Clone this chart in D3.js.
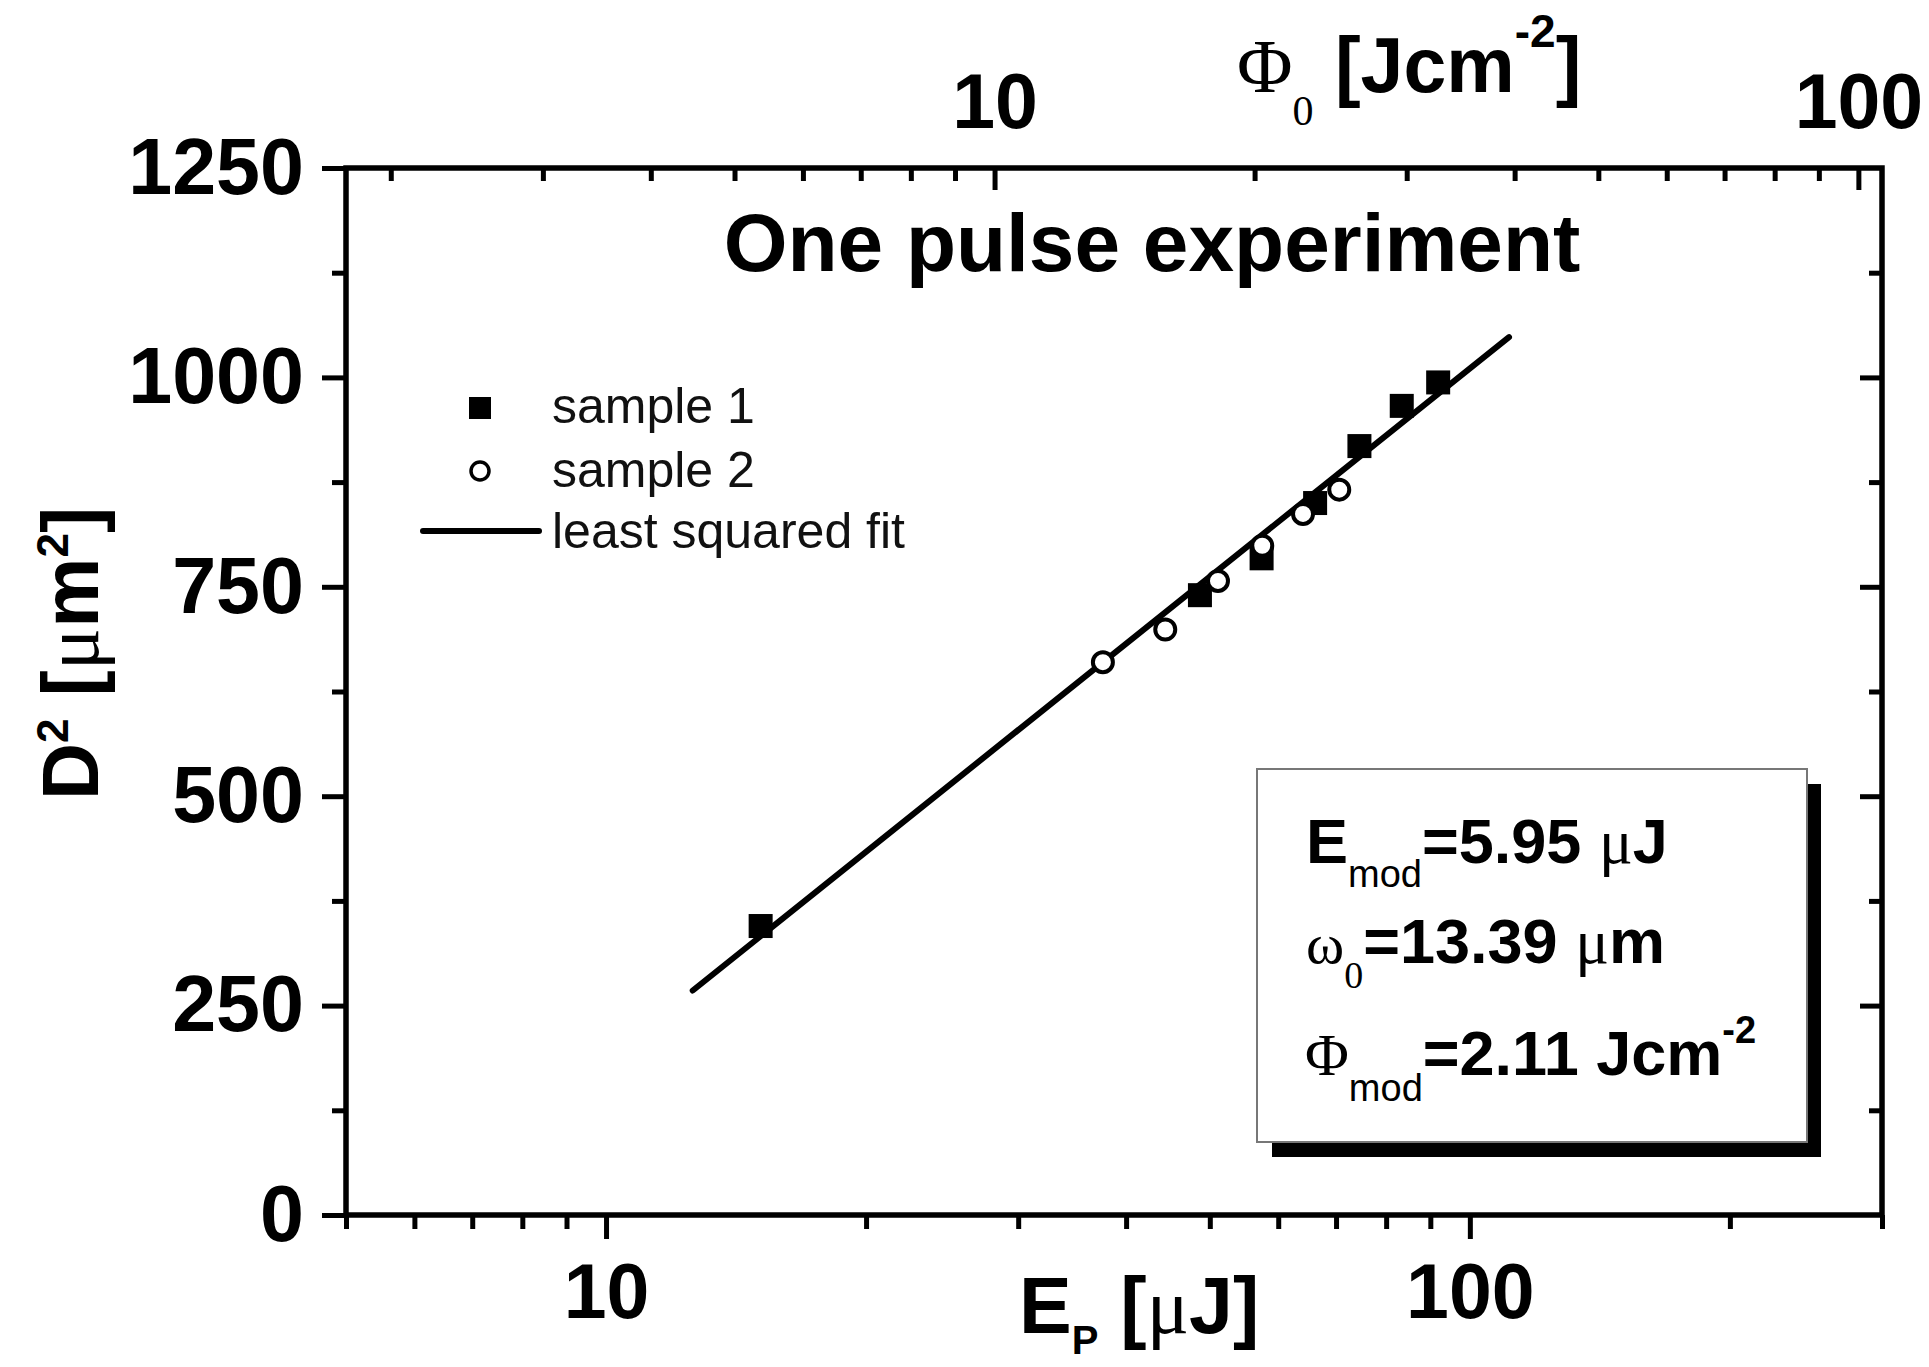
<!DOCTYPE html>
<html>
<head>
<meta charset="utf-8">
<script src="https://cdn.jsdelivr.net/npm/d3@7"></script>
<style>body{margin:0;background:#fff}</style>
</head>
<body>
<div id="chart"></div>
<script>
// DATA ------------------------------
const sample1E = [15.1, 48.7, 57.4, 66.2, 74.5, 83.4, 91.9];
const sample1D2 = [345, 740, 784, 850, 918, 966, 994];
const sample2E = [37.6, 44.4, 51.1, 57.5, 64.1, 70.6];
const sample2D2 = [660, 699, 757, 799, 837, 866];
const fitE = [12.6, 111];
const fitD2 = [268, 1048];
const xMajor = [10, 100];
const xMinor = [5, 6, 7, 8, 9, 20, 30, 40, 50, 60, 70, 80, 90, 200, 300];
const phiMajor = [10, 100];
const phiMinor = [2, 3, 4, 5, 6, 7, 8, 9, 20, 30, 40, 50, 60, 70, 80, 90];
const yMajor = [0, 250, 500, 750, 1000, 1250];
const yMinor = [125, 375, 625, 875, 1125];
const fluencePerMicroJ = 0.355; // Phi0 [J/cm2] for 1 uJ
const legendNames = ["sample 1", "sample 2", "least squared fit"];

// CHART INIT ------------------------------
const sans = "'Liberation Sans', Arial, Helvetica, sans-serif";
const serif = "'Liberation Serif', 'Times New Roman', serif";
const margin = ({top: 168, right: 47, bottom: 152, left: 346});
const width = 1929 - margin.left - margin.right;
const height = 1367 - margin.top - margin.bottom;

const root = d3.select('#chart').append('svg')
  .attr('width', 1929)
  .attr('height', 1367)
  .style('background', '#fff');
const svg = root.append('g')
  .attr("transform", "translate(" + margin.left + "," + margin.top + ")");

const x = d3.scaleLog().domain([5, 300]).range([0, width]);
const xTop = d3.scaleLog()
  .domain([5 * fluencePerMicroJ, 300 * fluencePerMicroJ]).range([0, width]);
const y = d3.scaleLinear().domain([0, 1250]).range([height, 0]);

function styleAxis(g, size) {
  g.select(".domain").remove();
  g.attr("font-family", sans).attr("font-size", size).attr("font-weight", "bold");
  g.selectAll(".tick line").attr("stroke-width", 5);
  g.selectAll(".tick text").attr("fill", "#000");
}

// bottom axis (E_P)
svg.append("g").attr("transform", "translate(0," + height + ")")
  .call(d3.axisBottom(x).tickValues(xMinor).tickSize(14).tickFormat(""))
  .call(g => styleAxis(g, 77));
svg.append("g").attr("transform", "translate(0," + height + ")")
  .call(d3.axisBottom(x).tickValues(xMajor).tickSize(24).tickPadding(24).tickFormat(d3.format("d")))
  .call(g => styleAxis(g, 77));

// top axis (Phi0), ticks inward
svg.append("g")
  .call(d3.axisTop(xTop).tickValues(phiMinor).tickSize(-13).tickFormat(""))
  .call(g => styleAxis(g, 77));
svg.append("g")
  .call(d3.axisTop(xTop).tickValues(phiMajor).tickSize(-22).tickPadding(40).tickFormat(d3.format("d")))
  .call(g => styleAxis(g, 77));

// left axis
svg.append("g")
  .call(d3.axisLeft(y).tickValues(yMinor).tickSize(14).tickFormat(""))
  .call(g => styleAxis(g, 79));
svg.append("g")
  .call(d3.axisLeft(y).tickValues(yMajor).tickSize(24).tickPadding(18).tickFormat(d3.format("d")))
  .call(g => styleAxis(g, 79));

// right axis, ticks inward
svg.append("g").attr("transform", "translate(" + width + ",0)")
  .call(d3.axisRight(y).tickValues(yMinor).tickSize(-13).tickFormat(""))
  .call(g => styleAxis(g, 79));
svg.append("g").attr("transform", "translate(" + width + ",0)")
  .call(d3.axisRight(y).tickValues(yMajor.slice(1, -1)).tickSize(-22).tickFormat(""))
  .call(g => styleAxis(g, 79));

// frame
svg.append("rect")
  .attr("width", width).attr("height", height)
  .attr("fill", "none").attr("stroke", "#000").attr("stroke-width", 5.5);

// fit line
svg.append("path")
  .datum(fitE.map((e, i) => [e, fitD2[i]]))
  .attr("d", d3.line().x(d => x(d[0])).y(d => y(d[1])))
  .attr("fill", "none").attr("stroke", "#000").attr("stroke-width", 6)
  .attr("stroke-linecap", "round");

// sample 1 (filled squares)
svg.selectAll(".s1").data(sample1E).enter().append("rect")
  .attr("class", "s1")
  .attr("x", d => x(d) - 12)
  .attr("y", (d, i) => y(sample1D2[i]) - 12)
  .attr("width", 24).attr("height", 24)
  .attr("fill", "#000");

// sample 2 (open circles)
svg.selectAll(".s2").data(sample2E).enter().append("circle")
  .attr("class", "s2")
  .attr("cx", d => x(d))
  .attr("cy", (d, i) => y(sample2D2[i]))
  .attr("r", 10)
  .attr("fill", "#fff").attr("stroke", "#000").attr("stroke-width", 4);

// TEXT HELPERS ----------------------------
function rich(parent, px, py, parts) {
  const t = parent.append("text").attr("x", px).attr("y", py).attr("fill", "#000");
  let shift = 0;
  parts.forEach(p => {
    const s = t.append("tspan").text(p.t)
      .attr("font-size", p.size)
      .attr("font-weight", p.bold ? "bold" : "normal")
      .attr("font-family", p.serif ? serif : sans)
      .style("white-space", "pre");
    const sh = p.shift || 0;
    if (sh - shift !== 0) s.attr("dy", sh - shift);
    shift = sh;
  });
  return t;
}

// title
root.append("text")
  .attr("x", 1152).attr("y", 271)
  .attr("text-anchor", "middle")
  .attr("font-family", sans).attr("font-size", 82).attr("font-weight", "bold")
  .text("One pulse experiment");

// axis titles
rich(root, 1019, 1333, [
  {t: "E", size: 79, bold: true},
  {t: "P", size: 40, bold: true, shift: 21},
  {t: " [", size: 79, bold: true},
  {t: "μ", size: 79, serif: true},
  {t: "J]", size: 79, bold: true}
]);

rich(root, 1237, 92, [
  {t: "Φ", size: 76, serif: true},
  {t: "0", size: 42, serif: true, shift: 33},
  {t: " [Jcm", size: 77, bold: true},
  {t: "-2", size: 46, bold: true, shift: -45},
  {t: "]", size: 77, bold: true}
]);

const yTitle = root.append("g").attr("transform", "translate(98,800) rotate(-90)");
rich(yTitle, 0, 0, [
  {t: "D", size: 79, bold: true},
  {t: "2", size: 44, bold: true, shift: -30},
  {t: " [", size: 79, bold: true},
  {t: "μ", size: 79, serif: true},
  {t: "m", size: 79, bold: true},
  {t: "2", size: 44, bold: true, shift: -30},
  {t: "]", size: 79, bold: true}
]);

// legend
const leg = root.append("g");
leg.append("rect").attr("x", 469).attr("y", 397).attr("width", 22).attr("height", 22).attr("fill", "#000");
leg.append("circle").attr("cx", 480).attr("cy", 471).attr("r", 9)
  .attr("fill", "#fff").attr("stroke", "#000").attr("stroke-width", 3.5);
leg.append("line").attr("x1", 423).attr("x2", 539).attr("y1", 531).attr("y2", 531)
  .attr("stroke", "#000").attr("stroke-width", 6).attr("stroke-linecap", "round");
leg.selectAll(".lt").data(legendNames).enter().append("text")
  .attr("class", "lt")
  .attr("x", 552)
  .attr("y", (d, i) => [423, 487, 548][i])
  .attr("font-family", sans).attr("font-size", 50)
  .attr("fill", "#111")
  .text(d => d);

// parameter box with shadow
const box = root.append("g");
box.append("rect").attr("x", 1272).attr("y", 784).attr("width", 549).attr("height", 373).attr("fill", "#000");
box.append("rect").attr("x", 1257).attr("y", 769).attr("width", 550).attr("height", 373)
  .attr("fill", "#fff").attr("stroke", "#777").attr("stroke-width", 2);

rich(box, 1306, 863, [
  {t: "E", size: 63, bold: true},
  {t: "mod", size: 38, shift: 24},
  {t: "=5.95 ", size: 63, bold: true},
  {t: "μ", size: 63, serif: true},
  {t: "J", size: 63, bold: true}
]);
rich(box, 1306, 963, [
  {t: "ω", size: 58, serif: true},
  {t: "0", size: 38, serif: true, shift: 25},
  {t: "=13.39 ", size: 63, bold: true},
  {t: "μ", size: 63, serif: true},
  {t: "m", size: 63, bold: true}
]);
rich(box, 1305, 1075, [
  {t: "Φ", size: 60, serif: true},
  {t: "mod", size: 38, shift: 26},
  {t: "=2.11 Jcm", size: 63, bold: true},
  {t: "-2", size: 38, bold: true, shift: -32}
]);
</script>
</body>
</html>
